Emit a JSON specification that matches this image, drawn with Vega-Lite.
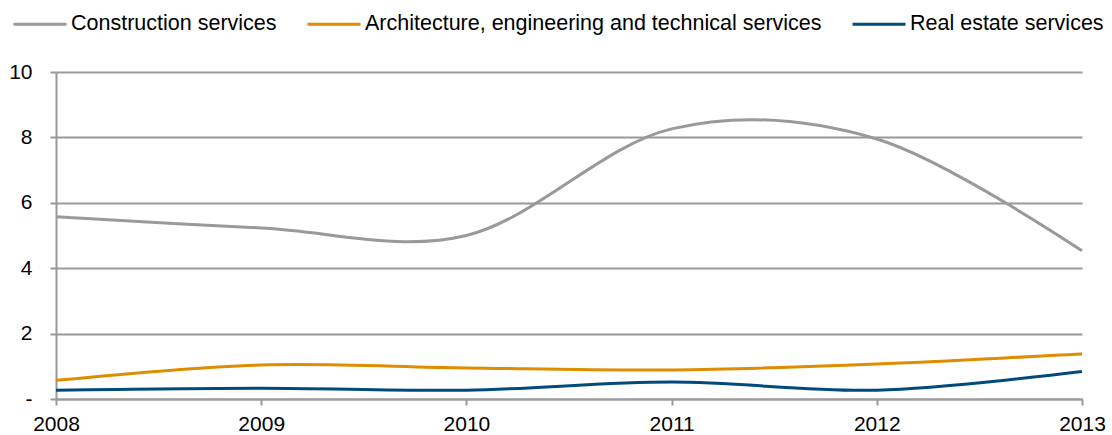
{
  "$schema": "https://vega.github.io/schema/vega-lite/v6.json",
  "width": 1026,
  "height": 327,
  "autosize": {"type": "none"},
  "padding": {"left": 56, "top": 72, "right": 30, "bottom": 36},
  "background": "white",
  "config": {"view": {"stroke": null}, "font": "Liberation Sans"},
  "data": {
    "values": [
      {"series": "Construction services", "year": 2008, "value": 5.57},
      {"series": "Construction services", "year": 2009, "value": 5.23},
      {"series": "Construction services", "year": 2010, "value": 5.0},
      {"series": "Construction services", "year": 2011, "value": 8.26},
      {"series": "Construction services", "year": 2012, "value": 7.95},
      {"series": "Construction services", "year": 2013, "value": 4.53},
      {"series": "Architecture, engineering and technical services", "year": 2008, "value": 0.57},
      {"series": "Architecture, engineering and technical services", "year": 2009, "value": 1.04},
      {"series": "Architecture, engineering and technical services", "year": 2010, "value": 0.95},
      {"series": "Architecture, engineering and technical services", "year": 2011, "value": 0.89},
      {"series": "Architecture, engineering and technical services", "year": 2012, "value": 1.07},
      {"series": "Architecture, engineering and technical services", "year": 2013, "value": 1.38},
      {"series": "Real estate services", "year": 2008, "value": 0.27},
      {"series": "Real estate services", "year": 2009, "value": 0.33},
      {"series": "Real estate services", "year": 2010, "value": 0.27},
      {"series": "Real estate services", "year": 2011, "value": 0.52},
      {"series": "Real estate services", "year": 2012, "value": 0.27},
      {"series": "Real estate services", "year": 2013, "value": 0.84}
    ]
  },
  "mark": {"type": "line", "interpolate": "cardinal", "strokeWidth": 3},
  "encoding": {
    "x": {
      "field": "year",
      "type": "quantitative",
      "scale": {"domain": [2008, 2013], "nice": false, "zero": false},
      "axis": {
        "title": null,
        "values": [2008, 2009, 2010, 2011, 2012, 2013],
        "format": "d",
        "grid": false,
        "domain": true,
        "domainColor": "#999999",
        "domainWidth": 2,
        "ticks": true,
        "tickSize": 6,
        "tickColor": "#999999",
        "tickWidth": 2,
        "labelFontSize": 21,
        "labelColor": "#000000",
        "labelPadding": 8,
        "labelFlush": false,
        "labelOverlap": false
      }
    },
    "y": {
      "field": "value",
      "type": "quantitative",
      "scale": {"domain": [0, 10], "nice": false},
      "axis": {
        "title": null,
        "values": [0, 2, 4, 6, 8, 10],
        "grid": true,
        "gridColor": "#999999",
        "gridWidth": 2,
        "domain": true,
        "domainColor": "#999999",
        "domainWidth": 2,
        "ticks": true,
        "tickSize": 6,
        "tickColor": "#999999",
        "tickWidth": 2,
        "labelFontSize": 21,
        "labelColor": "#000000",
        "labelPadding": 18,
        "labelExpr": "datum.value == 0 ? '-\u00a0\u00a0' : datum.label"
      }
    },
    "color": {
      "field": "series",
      "type": "nominal",
      "scale": {
        "domain": ["Construction services", "Architecture, engineering and technical services", "Real estate services"],
        "range": ["#999999", "#DE8C00", "#004B7C"]
      },
      "legend": {
        "orient": "none",
        "legendX": -44,
        "legendY": -76,
        "direction": "horizontal",
        "columns": 3,
        "title": null,
        "symbolType": "stroke",
        "symbolSize": 2809,
        "symbolStrokeWidth": 3,
        "labelFontSize": 21.5,
        "labelColor": "#000000",
        "labelOffset": 3,
        "labelLimit": 700,
        "columnPadding": 24,
        "padding": 0
      }
    }
  }
}
